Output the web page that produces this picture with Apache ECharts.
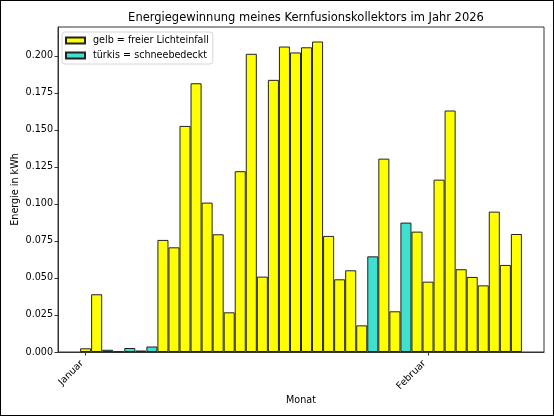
<!DOCTYPE html>
<html>
<head>
<meta charset="utf-8">
<script src="https://cdn.jsdelivr.net/npm/echarts@6/dist/echarts.min.js"></script>
<style>
html,body{margin:0;padding:0;background:#fff;}
#frame{width:554px;height:416px;box-sizing:border-box;border:1px solid #000;position:relative;overflow:hidden;}
#chart{position:absolute;left:-1px;top:-1px;width:554px;height:416px;}
</style>
</head>
<body>
<div id="frame"><div id="chart"></div></div>
<script>
// ---- data ----
const dates = [
  '2026-01-01','2026-01-02','2026-01-03','2026-01-04','2026-01-05','2026-01-06','2026-01-07','2026-01-08',
  '2026-01-09','2026-01-10','2026-01-11','2026-01-12','2026-01-13','2026-01-14','2026-01-15','2026-01-16',
  '2026-01-17','2026-01-18','2026-01-19','2026-01-20','2026-01-21','2026-01-22','2026-01-23','2026-01-24',
  '2026-01-25','2026-01-26','2026-01-27','2026-01-28','2026-01-29','2026-01-30','2026-01-31','2026-02-01',
  '2026-02-02','2026-02-03','2026-02-04','2026-02-05','2026-02-06','2026-02-07','2026-02-08','2026-02-09'
];
const energy = [
  0.0025, 0.0390, 0.0015, 0.0004, 0.0027, 0.0010, 0.0037, 0.0757,
  0.0707, 0.1527, 0.1815, 0.1009, 0.0795, 0.0268, 0.1221, 0.2014,
  0.0509, 0.1838, 0.2063, 0.2023, 0.2058, 0.2097, 0.0784, 0.0491,
  0.0552, 0.0180, 0.0646, 0.1306, 0.0275, 0.0874, 0.0813, 0.0475,
  0.1164, 0.1631, 0.0559, 0.0507, 0.0450, 0.0948, 0.0588, 0.0797
];
// 1 = schneebedeckt (türkis), 0 = freier Lichteinfall (gelb)
const snowCovered = [
  0,0,1,1,1,1,1,0,
  0,0,0,0,0,0,0,0,
  0,0,0,0,0,0,0,0,
  0,0,1,0,0,1,0,0,
  0,0,0,0,0,0,0,0
];
const monthTickDates = ['2026-01-01','2026-02-01'];
const monthLabels = ['Januar','Februar'];
const yTicks = [0, 0.025, 0.05, 0.075, 0.1, 0.125, 0.15, 0.175, 0.2];
const seriesNames = ['gelb = freier Lichteinfall', 'türkis = schneebedeckt'];
const titleText = 'Energiegewinnung meines Kernfusionskollektors im Jahr 2026';

// ---- helpers ----
const base = Date.UTC(2026,0,1);
function dayIndex(s){ const p = s.split('-').map(Number); return (Date.UTC(p[0],p[1]-1,p[2]) - base)/86400000; }
const xs = dates.map(dayIndex);
const monthTicks = monthTickDates.map(dayIndex);
const yellowData = [], tealData = [];
xs.forEach((x,i)=>{ (snowCovered[i] ? tealData : yellowData).push([x, energy[i]]); });

const font = 'DejaVu Sans';
const fs = 9.6;
const chart = echarts.init(document.getElementById('chart'), null, {renderer:'canvas'});
const span = xs[xs.length-1]-xs[0]+1;
const xMin = xs[0] - 0.5 - 0.05*span;
const xMax = xs[xs.length-1] + 0.5 + 0.05*span;
const edge = '#222';
// rotated labels: shift the label anchor a third of a day left so the text ends at the tick like the reference
const labelShift = 0.33;
const labelValues = monthTicks.map(v => v - labelShift);

const option = {
  animation: false,
  backgroundColor: '#fff',
  title: {
    text: titleText, left: 301, top: 7, textAlign: 'center',
    textStyle: {fontFamily: font, fontSize: 11.5, fontWeight: 'normal', color: '#000'}
  },
  grid: {left: 58, right: 10, top: 27, bottom: 64, outerBoundsMode: 'none', containLabel: false,
         show: true, borderColor: '#333', borderWidth: 1, backgroundColor: 'transparent'},
  legend: {
    orient: 'vertical', left: 62, top: 32,
    itemWidth: 19, itemHeight: 6, itemGap: 4,
    padding: [3, 4, 3, 3],
    backgroundColor: 'rgba(255,255,255,0.8)', borderColor: '#d6d6d6', borderWidth: 1, borderRadius: 3,
    textStyle: {fontFamily: font, fontSize: fs, color: '#000', lineHeight: 11, padding: [0,0,0,3]},
    data: seriesNames.map(n => ({name: n, icon: 'rect'}))
  },
  xAxis: {
    type: 'value', min: xMin, max: xMax,
    name: 'Monat', nameLocation: 'middle', nameGap: 43, nameMoveOverlap: false,
    nameTextStyle: {fontFamily: font, fontSize: fs, color: '#000'},
    splitLine: {show: false},
    axisLine: {show: true, onZero: false, lineStyle: {color: '#333', width: 1}},
    axisTick: {show: true, length: 3.5, lineStyle: {color: '#333'}, customValues: monthTicks},
    axisLabel: {
      customValues: labelValues, rotate: 45, margin: 10,
      fontFamily: font, fontSize: fs, color: '#000',
      formatter: v => {
        let best = 0;
        labelValues.forEach((lv, i) => { if (Math.abs(lv - v) < Math.abs(labelValues[best] - v)) best = i; });
        return monthLabels[best];
      }
    }
  },
  yAxis: {
    type: 'value', min: 0, max: 0.2195,
    name: 'Energie in kWh', nameLocation: 'middle', nameGap: 38, nameMoveOverlap: false,
    nameTextStyle: {fontFamily: font, fontSize: fs, color: '#000'},
    splitLine: {show: false},
    axisLine: {show: true, onZero: false, lineStyle: {color: '#333', width: 1}},
    axisTick: {show: true, length: 3.5, lineStyle: {color: '#333'}, customValues: yTicks},
    axisLabel: {customValues: yTicks, margin: 5, fontFamily: font, fontSize: fs, color: '#000', formatter: v => v.toFixed(3)}
  },
  series: [
    {name: seriesNames[0], type: 'bar', data: yellowData, barWidth: 11, barGap: '-100%',
     itemStyle: {color: '#ffff00', borderColor: edge, borderWidth: 1}},
    {name: seriesNames[1], type: 'bar', data: tealData, barWidth: 11, barGap: '-100%',
     itemStyle: {color: '#40e0d0', borderColor: edge, borderWidth: 1}}
  ]
};
chart.setOption(option);
const w = chart.convertToPixel({xAxisIndex: 0}, 1) - chart.convertToPixel({xAxisIndex: 0}, 0);
chart.setOption({series: [{barWidth: w}, {barWidth: w}]});
</script>
</body>
</html>
